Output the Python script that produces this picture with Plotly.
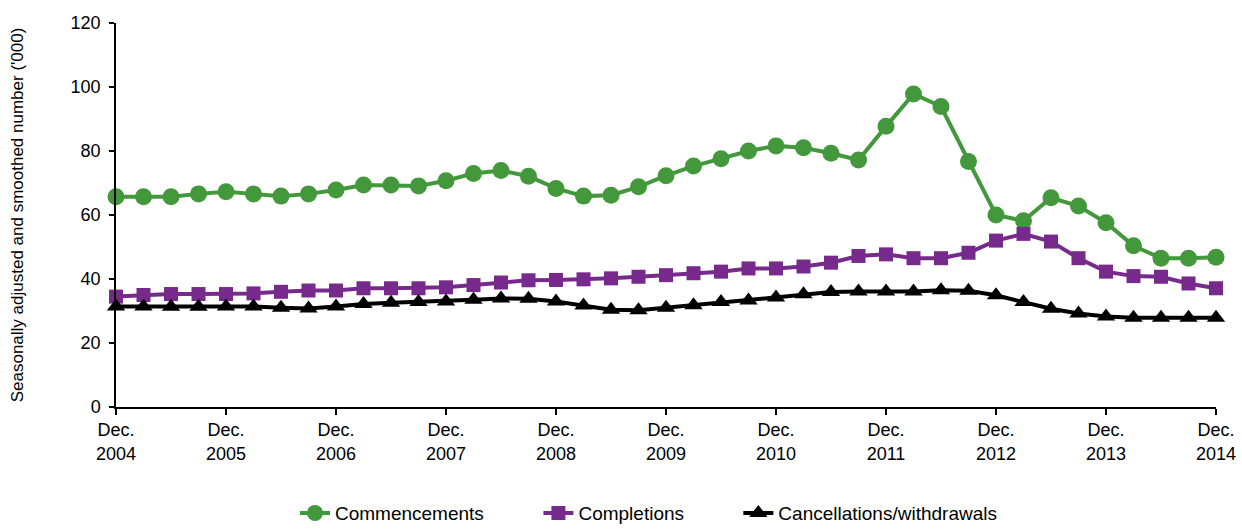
import plotly.graph_objects as go

quarters = []
for y in range(2004, 2015):
    for m in ["Mar", "Jun", "Sep", "Dec"]:
        if y == 2004 and m != "Dec":
            continue
        quarters.append(f"{m} {y}")

commencements = [65.7, 65.7, 65.7, 66.6, 67.3, 66.6, 65.9, 66.6, 67.8, 69.4, 69.4, 69.1,
                 70.7, 73.0, 73.9, 72.1, 68.3, 65.9, 66.2, 68.8, 72.3, 75.3, 77.6, 80.0,
                 81.6, 81.0, 79.3, 77.2, 87.7, 97.8, 93.9, 76.7, 60.0, 58.2, 65.4, 62.8,
                 57.6, 50.4, 46.5, 46.5, 46.8]
completions = [34.5, 35.0, 35.3, 35.3, 35.3, 35.5, 36.0, 36.4, 36.4, 37.1, 37.1, 37.1,
               37.4, 38.1, 38.9, 39.6, 39.7, 39.9, 40.2, 40.7, 41.2, 41.8, 42.3, 43.3,
               43.3, 43.9, 45.1, 47.2, 47.7, 46.5, 46.5, 48.2, 52.0, 54.1, 51.7, 46.5,
               42.3, 40.9, 40.7, 38.6, 37.1]
cancellations = [31.4, 31.4, 31.3, 31.3, 31.4, 31.4, 31.0, 30.8, 31.4, 32.2, 32.6, 32.8,
                 33.0, 33.5, 33.9, 33.8, 33.0, 31.7, 30.4, 30.2, 31.0, 31.8, 32.8, 33.3,
                 34.2, 35.2, 35.9, 36.1, 36.1, 36.1, 36.5, 36.3, 34.9, 32.8, 30.7, 29.2,
                 28.3, 27.9, 27.9, 27.9, 27.9]

tick_quarters = [q for q in quarters if q.startswith("Dec")]
tick_labels = [f"Dec.<br>{q.split()[1]}" for q in tick_quarters]

series = [
    ("Commencements", commencements, "#43983B", "circle", 17, "legend", 0.2375),
    ("Completions", completions, "#772A8C", "square", 14, "legend2", 0.4335),
    ("Cancellations/withdrawals", cancellations, "#000000", "triangle-up", 16, "legend3", 0.5945),
]

fig = go.Figure()
for name, vals, color, sym, size, leg, lx in series:
    fig.add_trace(go.Scatter(
        x=quarters, y=vals, name=name, mode="lines+markers",
        line=dict(color=color, width=4),
        marker=dict(symbol=sym, size=size, color=color),
        cliponaxis=False, legend=leg,
    ))

font = "Liberation Sans, Arial, sans-serif"
legends = {}
for name, vals, color, sym, size, leg, lx in series:
    legends[leg] = dict(orientation="h", x=lx, xref="container", xanchor="left",
                        y=0.03, yref="container", yanchor="middle",
                        font=dict(size=19), bgcolor="rgba(0,0,0,0)")

fig.update_layout(
    width=1242, height=529,
    margin=dict(l=116, r=26, t=23, b=122),
    plot_bgcolor="white", paper_bgcolor="white",
    font=dict(family=font, size=18, color="black"),
    showlegend=True,
    **legends,
)
fig.update_xaxes(
    type="category", range=[0, len(quarters) - 1], automargin=False,
    tickvals=tick_quarters, ticktext=tick_labels,
    showline=True, linecolor="black", linewidth=1.5,
    ticks="outside", ticklen=6, tickcolor="black", tickwidth=1.5,
    showgrid=False, zeroline=False, tickfont=dict(size=18),
)
fig.update_yaxes(
    range=[0, 120], dtick=20, automargin=False,
    showline=True, linecolor="black", linewidth=1.5,
    ticks="outside", ticklen=5, tickcolor="black", tickwidth=1.5,
    ticklabelstandoff=5,
    showgrid=False, zeroline=False, tickfont=dict(size=18),
    title=dict(text="Seasonally adjusted and smoothed number ('000)", font=dict(size=17), standoff=43),
)

fig.write_html("out.html", config={"displayModeBar": False},
               post_script="document.body.style.margin='0';")
